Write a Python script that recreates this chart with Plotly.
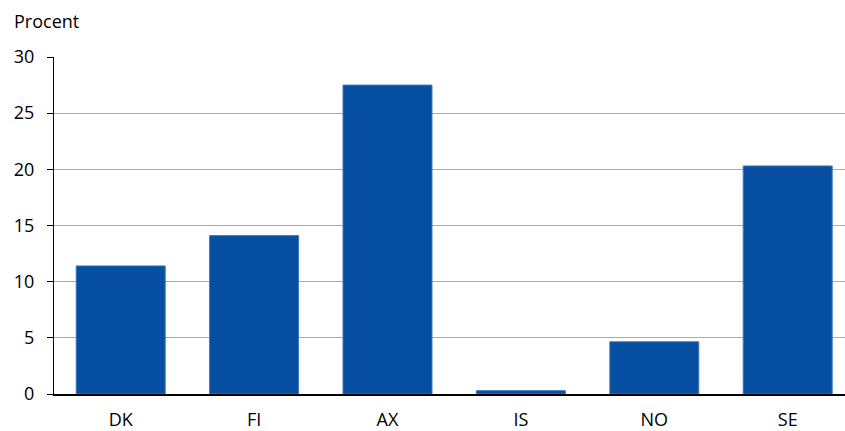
import plotly.graph_objects as go

categories = ["DK", "FI", "AX", "IS", "NO", "SE"]
values = [11.4, 14.1, 27.5, 0.3, 4.65, 20.3]
y_ticks = [0, 5, 10, 15, 20, 25, 30]

fig = go.Figure(go.Bar(
    x=categories, y=values,
    marker=dict(color="#054EA2", line=dict(color="#3F78BC", width=1)),
))

L, R, T, B = 54, 0, 57, 28
PW = 845 - L - R
PH = 431 - T - B
cat_w = 133.4  # px per category in reference (plot runs past right edge)

font = "Open Sans, Liberation Sans, sans-serif"
fig.update_layout(
    width=845, height=431,
    margin=dict(l=L, r=R, t=T, b=B),
    plot_bgcolor="white", paper_bgcolor="white",
    bargap=0.333,
    showlegend=False,
    font=dict(family=font, size=18, color="#000000"),
    xaxis=dict(showline=True, linecolor="#000000", linewidth=1.5, ticks="",
               range=[-0.5, -0.5 + PW / cat_w],
               tickfont=dict(size=18), showgrid=False, ticklabelstandoff=9),
    yaxis=dict(range=[0, 30], tickvals=y_ticks, showline=True, linecolor="#000000",
               linewidth=1, ticks="outside", ticklen=6, tickcolor="#000000",
               showgrid=True, gridcolor="#ABABAB", gridwidth=1, zeroline=False,
               tickfont=dict(size=18), ticklabelstandoff=9),
    annotations=[dict(text="Procent", x=(12 - L) / PW, y=(PH + T - 20) / PH,
                      xref="paper", yref="paper",
                      xanchor="left", yanchor="middle", showarrow=False,
                      font=dict(size=18))],
)
fig.write_html("out.html", config={"displayModeBar": False},
               post_script="document.body.style.margin='0';document.body.style.overflow='hidden';")
